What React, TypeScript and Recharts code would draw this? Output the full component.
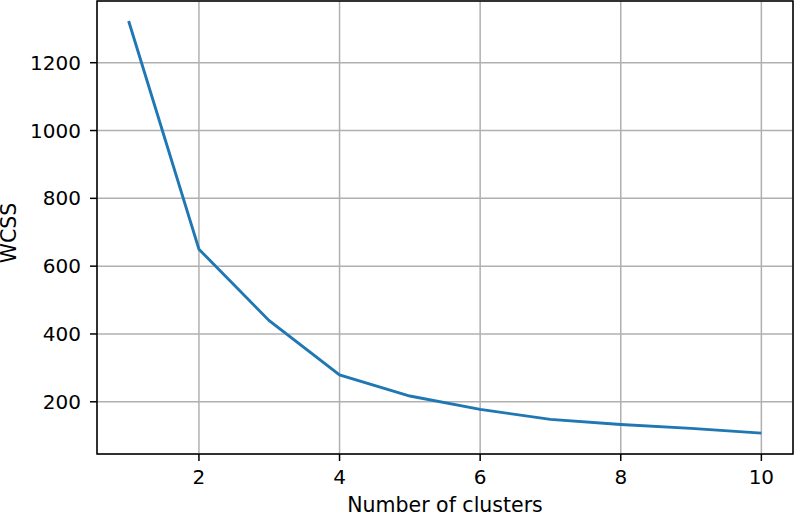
import React from 'react';
import { LineChart, Line, XAxis, YAxis, CartesianGrid, ReferenceArea } from 'recharts';

const clusters = [1, 2, 3, 4, 5, 6, 7, 8, 9, 10];
const wcss = [1323, 650, 439, 279, 217, 177.6, 148, 133, 121.6, 107.7];
const xTicks = [2, 4, 6, 8, 10];
const yTicks = [200, 400, 600, 800, 1000, 1200];
const xDomain: [number, number] = [0.55, 10.45];
const yDomain: [number, number] = [46, 1382];

const data = clusters.map((c, i) => ({ k: c, wcss: wcss[i] }));

const FONT = 'DejaVu Sans';

const XLabel = (props: any) => {
  const vb = props.viewBox || {};
  return (
    <text x={vb.x + vb.width / 2} y={511.5} textAnchor="middle" fontFamily={FONT} fontSize={20.5} fill="#000">
      Number of clusters
    </text>
  );
};

const YLabel = (props: any) => {
  const vb = props.viewBox || {};
  const x = vb.x + 15.5;
  const y = 233;
  return (
    <text x={x} y={y} textAnchor="middle" fontFamily={FONT} fontSize={20.5} fill="#000" transform={`rotate(-90, ${x}, ${y})`}>
      WCSS
    </text>
  );
};

export default function App() {
  return (
    <div style={{ position: 'absolute', left: 0, top: 0, width: 795, height: 513, background: '#fff' }}>
      <LineChart width={795} height={513} data={data} margin={{ top: 1, right: 2, bottom: 0, left: 0 }}>
        <CartesianGrid stroke="#b0b0b0" strokeWidth={1.5} />
        <XAxis
          dataKey="k"
          type="number"
          domain={xDomain}
          ticks={xTicks}
          allowDataOverflow
          height={59}
          axisLine={false}
          tickSize={7}
          tickMargin={9}
          tickLine={{ stroke: '#000', strokeWidth: 1.5 }}
          tick={{ fill: '#000', fontSize: 20, fontFamily: FONT }}
          label={XLabel}
        />
        <YAxis
          type="number"
          domain={yDomain}
          ticks={yTicks}
          allowDataOverflow
          width={97}
          axisLine={false}
          tickSize={7}
          tickMargin={9}
          tickLine={{ stroke: '#000', strokeWidth: 1.5 }}
          tick={{ fill: '#000', fontSize: 20, fontFamily: FONT }}
          label={YLabel}
        />
        <Line
          type="linear"
          dataKey="wcss"
          stroke="#1f77b4"
          strokeWidth={2.9}
          dot={false}
          isAnimationActive={false}
        />
        <ReferenceArea
          x1={xDomain[0]}
          x2={xDomain[1]}
          y1={yDomain[0]}
          y2={yDomain[1]}
          fill="none"
          fillOpacity={0}
          stroke="#000"
          strokeWidth={1.5}
          ifOverflow="visible"
        />
      </LineChart>
    </div>
  );
}
